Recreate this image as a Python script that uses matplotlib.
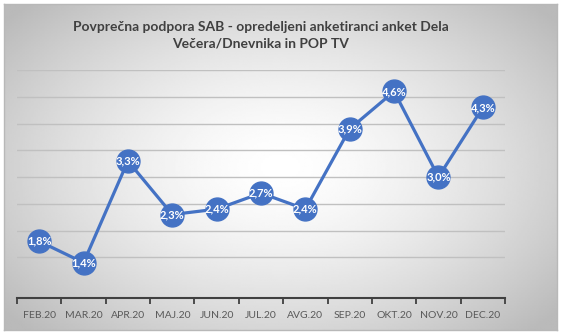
import numpy as np
import matplotlib
matplotlib.use("Agg")
import matplotlib.pyplot as plt

# data
months = ["FEB.20", "MAR.20", "APR.20", "MAJ.20", "JUN.20", "JUL.20",
          "AVG.20", "SEP.20", "OKT.20", "NOV.20", "DEC.20"]
support = [1.8, 1.4, 3.3, 2.3, 2.4, 2.7, 2.4, 3.9, 4.6, 3.0, 4.3]
labels = ["1,8%", "1,4%", "3,3%", "2,3%", "2,4%", "2,7%",
          "2,4%", "3,9%", "4,6%", "3,0%", "4,3%"]
title = "Povprečna podpora SAB - opredeljeni anketiranci anket Dela\nVečera/Dnevnika in POP TV"

W, H = 562, 334
fig = plt.figure(figsize=(W / 100, H / 100), dpi=100)
fig.patch.set_facecolor("white")

# radial gray gradient background with a border
bg = fig.add_axes([4 / W, 4 / H, 553 / W, 326 / H])
yy, xx = np.mgrid[-1:1:200j, -1:1:300j]
r = np.sqrt(xx ** 2 * 0.6 + yy ** 2 * 0.5)
r = np.clip(r, 0, 1)
shade = 1.0 - 0.27 * r ** 1.5
bg.imshow(shade, cmap="gray", vmin=0, vmax=1, aspect="auto",
          extent=[0, 1, 0, 1], interpolation="bilinear")
bg.set_xticks([])
bg.set_yticks([])
for s in bg.spines.values():
    s.set_color("#b8b8b8")
    s.set_linewidth(1)

ax = fig.add_axes([17 / W, 36 / H, 488 / W, 228 / H])
ax.patch.set_alpha(0)
x = np.arange(len(months))

ax.set_xlim(-0.5, len(months) - 0.5)
ax.set_ylim(0.74, 5.0)
for g in np.arange(1.5, 5.01, 0.5):
    ax.axhline(g, color="#c0c0c0", lw=1.0, zorder=1)

ax.plot(x, support, color="#4472C4", lw=2.3, marker="o", markersize=16.5,
        markerfacecolor="#4472C4", markeredgecolor="#4472C4", zorder=3)
for xi, v, lab in zip(x, support, labels):
    ax.text(xi, v, lab, ha="center", va="center", color="white",
            fontsize=8, fontweight="bold", family="Lato", zorder=4)

for name in ["top", "right", "left"]:
    ax.spines[name].set_visible(False)
ax.spines["bottom"].set_color("#404040")
ax.spines["bottom"].set_linewidth(1.5)
ax.set_yticks([])
ax.set_xticks(x)
ax.set_xticklabels(months, fontsize=7.5, color="#595959", family="Lato")
ax.tick_params(axis="x", which="major", length=0, pad=9)
ax.set_xticks(np.arange(-0.5, len(months), 1.0), minor=True)
ax.tick_params(axis="x", which="minor", length=4, width=1.3, color="#404040")

fig.text(261 / W, 1 - 35 / H, title, ha="center", va="center",
         fontsize=10, fontweight="bold", color="#404040", family="Lato",
         linespacing=1.4)

fig.savefig("out.png", dpi=100)
